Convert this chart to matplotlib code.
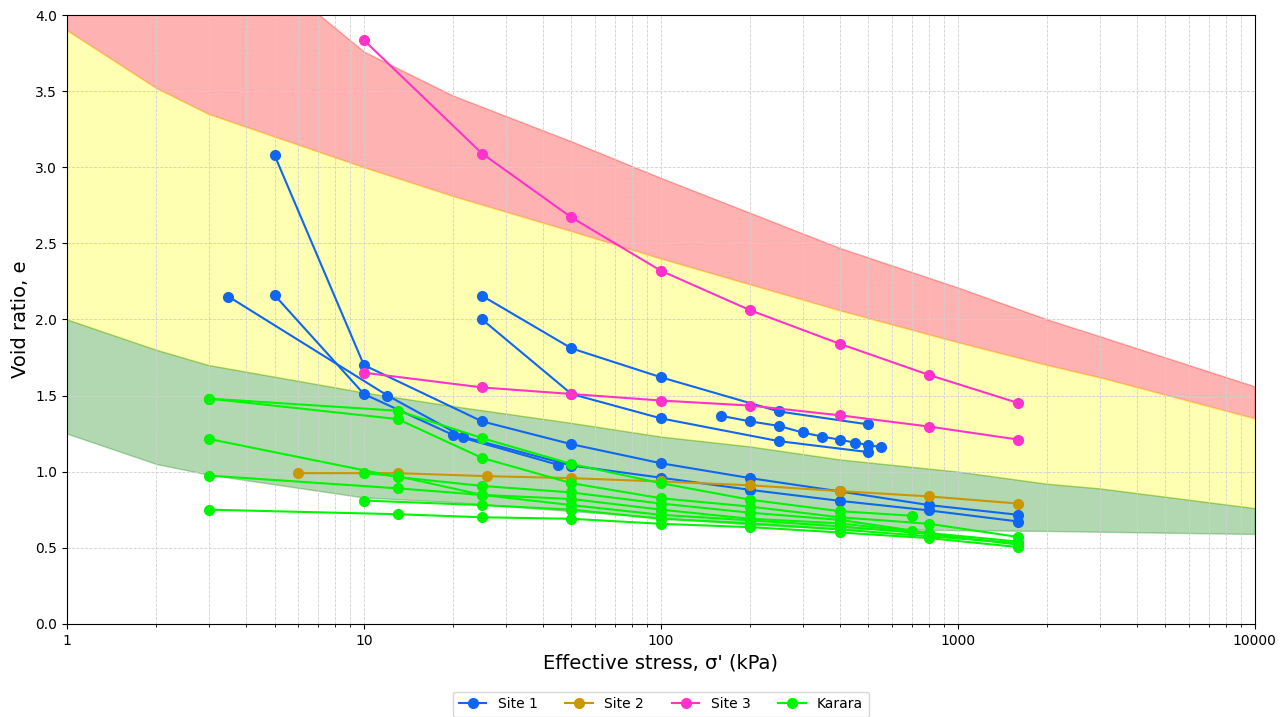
import matplotlib
matplotlib.use("Agg")
import matplotlib.pyplot as plt
from matplotlib.ticker import FuncFormatter

# zone boundaries (void ratio vs effective stress)
zone_stress = [1, 2, 3, 10, 20, 50, 100, 200, 400, 1000, 2000, 3000, 10000]
red_upper = [5.3, 4.9, 4.6, 3.76, 3.47, 3.17, 2.93, 2.70, 2.47, 2.21, 2.0, 1.89, 1.56]
yellow_upper = [3.90, 3.52, 3.35, 3.00, 2.81, 2.58, 2.40, 2.23, 2.06, 1.85, 1.70, 1.62, 1.35]
green_upper = [2.00, 1.80, 1.70, 1.52, 1.43, 1.32, 1.23, 1.165, 1.08, 1.00, 0.92, 0.89, 0.76]
green_lower = [1.25, 1.05, 0.98, 0.83, 0.80, 0.74, 0.70, 0.65, 0.625, 0.615, 0.61, 0.605, 0.59]

# Site 1
site1_stress = [
    [5, 10, 25, 50, 100, 200, 400, 800, 1600],
    [3.5, 12, 21.5, 50, 100, 200, 400, 800, 1600],
    [5, 10, 20, 45],
    [25, 50, 100, 250, 500],
    [25, 50, 100, 250, 500],
    [160, 200, 250, 300, 350, 400, 450, 500, 550],
]
site1_e = [
    [3.08, 1.70, 1.33, 1.18, 1.055, 0.957, 0.87, 0.78, 0.716],
    [2.15, 1.50, 1.23, 1.04, 0.96, 0.88, 0.808, 0.745, 0.672],
    [2.16, 1.51, 1.24, 1.045],
    [2.155, 1.81, 1.62, 1.395, 1.31],
    [2.00, 1.51, 1.35, 1.20, 1.128],
    [1.366, 1.33, 1.30, 1.257, 1.23, 1.21, 1.19, 1.175, 1.16],
]

# Site 2
site2_stress = [[6, 13, 26, 50, 100, 200, 400, 800, 1600]]
site2_e = [[0.99, 0.99, 0.97, 0.957, 0.935, 0.91, 0.872, 0.837, 0.79]]

# Site 3
site3_stress = [
    [10, 25, 50, 100, 200, 400, 800, 1600],
    [10, 25, 50, 100, 200, 400, 800, 1600],
]
site3_e = [
    [3.835, 3.09, 2.67, 2.32, 2.06, 1.84, 1.635, 1.45],
    [1.65, 1.553, 1.51, 1.467, 1.434, 1.37, 1.296, 1.21],
]

# Karara
karara_stress = [
    [3, 13, 25, 50, 100, 200, 400, 700],
    [3, 13, 25, 50, 100, 200, 400, 800, 1600],
    [3, 13, 25, 50, 100, 200, 400, 800, 1600],
    [10, 13, 25, 50, 100, 200, 400, 700],
    [3, 13, 25, 50, 100, 200, 400, 800, 1600],
    [10, 25, 50, 100, 200, 400, 800, 1600],
    [3, 13, 25, 50, 100, 200, 400, 800, 1600],
]
karara_e = [
    [1.48, 1.40, 1.22, 1.05, 0.924, 0.815, 0.74, 0.71],
    [1.48, 1.345, 1.09, 0.924, 0.825, 0.77, 0.70, 0.657, 0.57],
    [1.215, 0.964, 0.906, 0.863, 0.79, 0.73, 0.683, 0.596, 0.54],
    [0.99, 0.97, 0.847, 0.82, 0.75, 0.69, 0.66, 0.607],
    [0.974, 0.89, 0.847, 0.78, 0.716, 0.68, 0.64, 0.59, 0.52],
    [0.81, 0.78, 0.75, 0.69, 0.66, 0.62, 0.575, 0.53],
    [0.75, 0.72, 0.70, 0.69, 0.657, 0.635, 0.60, 0.563, 0.504],
]

groups = [
    ("Site 1", "#0f66f0", site1_stress, site1_e),
    ("Site 2", "#cc9600", site2_stress, site2_e),
    ("Site 3", "#ff33cc", site3_stress, site3_e),
    ("Karara", "#00f500", karara_stress, karara_e),
]

fig, ax = plt.subplots(figsize=(12.87, 7.17), dpi=100)
fig.subplots_adjust(left=0.052, right=0.975, top=0.979, bottom=0.13)

ax.fill_between(zone_stress, yellow_upper, red_upper, color="red", alpha=0.3)
ax.fill_between(zone_stress, green_upper, yellow_upper, color="yellow", alpha=0.3)
ax.fill_between(zone_stress, green_lower, green_upper, color="green", alpha=0.3)

for name, colour, xs, ys in groups:
    for i, (x, y) in enumerate(zip(xs, ys)):
        ax.plot(x, y, "-o", color=colour, lw=1.5, ms=7,
                label=name if i == 0 else None)

ax.set_xscale("log")
ax.set_xlim(1, 10000)
ax.set_ylim(0, 4)
ax.set_yticks([0, 0.5, 1, 1.5, 2, 2.5, 3, 3.5, 4])
ax.xaxis.set_major_formatter(FuncFormatter(lambda v, p: f"{v:g}"))
ax.grid(True, which="major", linestyle="--", linewidth=0.6, color="#d0d0d0")
ax.xaxis.grid(True, which="minor", linestyle="--", linewidth=0.6, color="#d0d0d0")

ax.set_xlabel("Effective stress, σ' (kPa)", fontsize=14)
ax.set_ylabel("Void ratio, e", fontsize=14)
ax.legend(loc="upper center", bbox_to_anchor=(0.5, -0.1), ncol=4, fontsize=10)

fig.savefig("out.png", dpi=100)
